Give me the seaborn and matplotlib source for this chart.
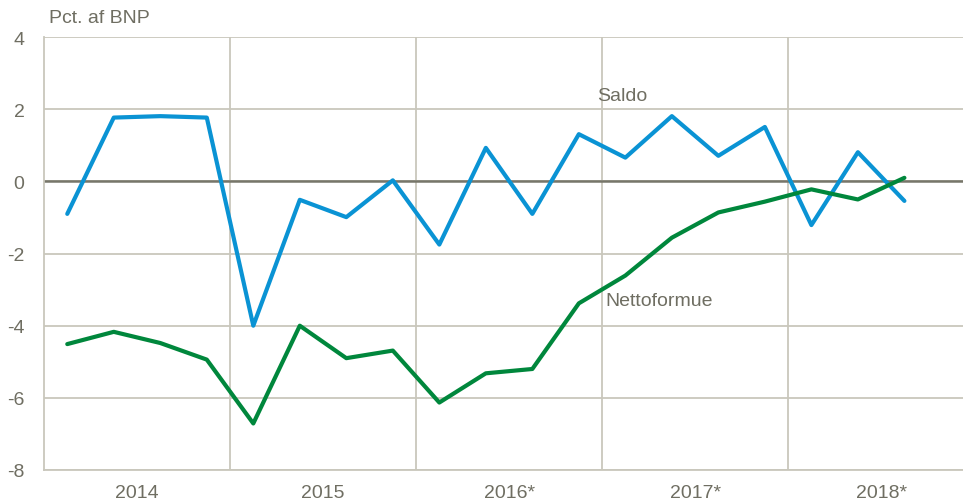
import numpy as np
import pandas as pd
import matplotlib.pyplot as plt
from matplotlib.ticker import FixedLocator, NullFormatter
import seaborn as sns

# quarterly values 2014K1 - 2018K3, pct. af BNP
quarters = list(range(19))
saldo = [-0.90, 1.77, 1.81, 1.77, -4.00, -0.51, -0.99, 0.03, -1.75, 0.93,
         -0.90, 1.31, 0.66, 1.81, 0.71, 1.51, -1.21, 0.81, -0.54]
nettoformue = [-4.51, -4.17, -4.48, -4.94, -6.71, -4.00, -4.90, -4.69, -6.13, -5.32,
               -5.20, -3.38, -2.61, -1.56, -0.86, -0.56, -0.22, -0.50, 0.10]
year_labels = ["2014", "2015", "2016*", "2017*", "2018*"]
y_ticks = [4, 2, 0, -2, -4, -6, -8]

df = pd.DataFrame({"kvartal": quarters * 2,
                   "værdi": saldo + nettoformue,
                   "serie": ["Saldo"] * 19 + ["Nettoformue"] * 19})

sns.set_style("white")
plt.rcParams["font.family"] = ["Liberation Sans", "DejaVu Sans"]

txt = "#6f6e62"
grid = "#c9c7bc"

fig = plt.figure(figsize=(9.63, 5.02), dpi=100)
ax = fig.add_axes([0.0457, 0.0618, 0.9543, 0.8622])

# grid lines first so the series draw on top
for y in y_ticks:
    ax.axhline(y, color=grid, lw=1.3, zorder=0)
for x in [3.5, 7.5, 11.5, 15.5]:
    ax.axvline(x, color=grid, lw=1.3, zorder=0)
ax.axhline(0, color="#77766a", lw=1.8, zorder=1)

sns.lineplot(data=df, x="kvartal", y="værdi", hue="serie",
             palette={"Saldo": "#0a93d4", "Nettoformue": "#00873c"},
             lw=3, legend=False, ax=ax, zorder=3)

ax.set_xlim(-0.5, 19.26)
ax.set_ylim(-8, 4)
ax.set_xticks([1.5, 5.5, 9.5, 13.5, 17.5])
ax.set_xticklabels(year_labels)
ax.set_yticks(y_ticks)
ax.set_yticklabels([str(v) for v in y_ticks])
ax.tick_params(length=0, labelsize=14, colors=txt)
ax.tick_params(axis="x", pad=10)
ax.tick_params(axis="y", pad=14)
ax.set_xlabel("")
ax.set_ylabel("")

for s in ["top", "right"]:
    ax.spines[s].set_visible(False)
for s in ["left", "bottom"]:
    ax.spines[s].set_color(grid)
    ax.spines[s].set_linewidth(1.3)

ax.text(0.005, 1.025, "Pct. af BNP", transform=ax.transAxes, fontsize=14,
        color=txt, ha="left", va="bottom")
ax.text(11.4, 2.37, "Saldo", fontsize=14, color=txt, ha="left", va="center")
ax.text(11.56, -3.3, "Nettoformue", fontsize=14, color=txt, ha="left", va="center")

plt.savefig("out.png", dpi=100)
